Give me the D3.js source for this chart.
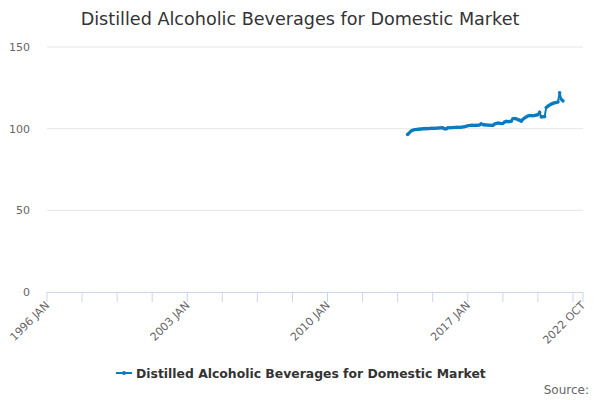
<!DOCTYPE html>
<html><head><meta charset="utf-8">
<script src="https://cdn.jsdelivr.net/npm/d3@7"></script>
<style>body{margin:0;background:#fff;font-family:"DejaVu Sans",sans-serif}</style>
</head><body><svg id="c" width="600" height="400"></svg>
<script>
const title = "Distilled Alcoholic Beverages for Domestic Market";
const seriesName = "Distilled Alcoholic Beverages for Domestic Market";
const startYear = 1996;
const dataStartMonth = 216; // 2014 JAN
const values = [
 96.5,97.5,98.5,99,99.3,99.5,99.6,99.7,99.8,99.9,100,100,
 100,100.1,100.2,100.2,100.3,100.3,100.4,100.4,100.5,100.5,100,99.8,
 100.5,100.6,100.6,100.7,100.7,100.8,100.8,100.8,100.9,101,101.2,101.5,
 101.8,101.9,102,102,102,102,102.1,102.2,103,102.5,102.3,102.2,
 102.2,102.1,102.1,102,102.8,103.2,103.4,103.3,103.2,103.2,104,104.5,
 104.3,104.4,104.6,106,106.2,106,105.5,105.2,104.5,105.8,106.5,107.2,
 107.8,108,108,107.9,108.1,108.3,108.5,110,107.2,107.3,107.4,113,
 113.8,114.5,115,115.5,115.8,116,116.3,122,118,117
];
const yTicks = [0,50,100,150];
const totalMonths = 321;

const svg = d3.select("#c");
const m = {l:47, r:583, t:47, b:292};
const x = d3.scaleLinear().domain([0,totalMonths]).range([m.l,m.r]);
const y = d3.scaleLinear().domain([0,150]).range([m.b,m.t]);

svg.append("text").attr("x",300).attr("y",25).attr("text-anchor","middle")
  .attr("font-size",17.6).attr("fill","#333").text(title);

svg.append("g").selectAll("line").data(yTicks.slice(1)).join("line")
  .attr("x1",m.l).attr("x2",m.r).attr("y1",d=>y(d)).attr("y2",d=>y(d))
  .attr("stroke","#e6e6e6");
svg.append("g").selectAll("text").data(yTicks).join("text")
  .attr("x",30).attr("y",d=>y(d)+4).attr("text-anchor","end")
  .attr("font-size",11).attr("fill","#666").text(d=>d);

svg.append("line").attr("x1",m.l).attr("x2",m.r).attr("y1",m.b+0.5).attr("y2",m.b+0.5).attr("stroke","#ccd6eb");
const tickMs = d3.range(0,totalMonths+1,21).concat([totalMonths]);
svg.append("g").selectAll("line").data(tickMs).join("line")
  .attr("x1",d=>x(d)).attr("x2",d=>x(d)).attr("y1",m.b).attr("y2",m.b+10).attr("stroke","#ccd6eb");
const mn = ["JAN","FEB","MAR","APR","MAY","JUN","JUL","AUG","SEP","OCT","NOV","DEC"];
const labMs = [0,84,168,252,totalMonths];
svg.append("g").selectAll("text").data(labMs).join("text")
  .attr("transform",d=>`translate(${x(d)+3},${m.b+14}) rotate(-45)`)
  .attr("text-anchor","end").attr("font-size",11).attr("fill","#666")
  .text(d=>(startYear+Math.floor(d/12))+" "+mn[d%12]);

const pts = values.map((v,i)=>[dataStartMonth+i,v]);
svg.append("path").datum(pts).attr("fill","none").attr("stroke","#0b7bc1").attr("stroke-width",2)
  .attr("d",d3.line().x(d=>x(d[0])).y(d=>y(d[1])));
svg.append("g").selectAll("circle").data(pts).join("circle")
  .attr("cx",d=>x(d[0])).attr("cy",d=>y(d[1])).attr("r",1.8).attr("fill","#0b7bc1");

const lg = svg.append("g");
lg.append("line").attr("x1",116).attr("x2",132).attr("y1",373).attr("y2",373).attr("stroke","#0b7bc1").attr("stroke-width",2);
lg.append("circle").attr("cx",124).attr("cy",373).attr("r",2).attr("fill","#0b7bc1");
lg.append("text").attr("x",136).attr("y",378).attr("font-size",12.4).attr("font-weight","bold").attr("fill","#333").text(seriesName);
svg.append("text").attr("x",589).attr("y",394).attr("text-anchor","end").attr("font-size",12).attr("fill","#666").text("Source:");
</script></body></html>
